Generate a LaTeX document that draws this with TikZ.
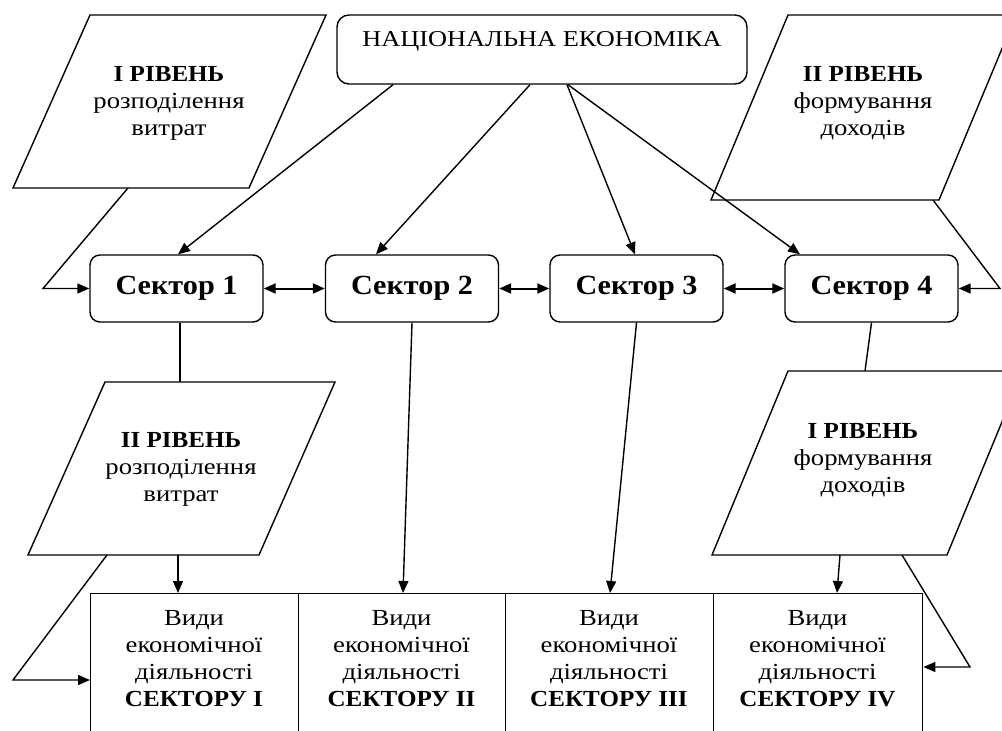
\documentclass[tikz,border=0pt]{standalone}
\usepackage{fontspec}
\setmainfont{Liberation Serif}[FakeStretch=1.16,BoldFeatures={FakeStretch=1.09}]
\usetikzlibrary{arrows.meta}
\begin{document}
\begin{tikzpicture}[x=1pt,y=-1pt,
  ln/.style={line width=1.4pt},
  arr/.style={line width=1.4pt,-{Triangle[length=12pt,width=10pt]}},
  darr/.style={line width=2pt,{Triangle[length=12pt,width=10pt]}-{Triangle[length=12pt,width=10pt]}},
  sector/.style={draw,line width=1.4pt,rounded corners=10pt,minimum width=173pt,minimum height=67pt,font=\fontsize{27.7}{32}\selectfont\bfseries},
  topbox/.style={draw,line width=1.4pt,rounded corners=12pt,minimum width=410pt,minimum height=69pt,font=\fontsize{22.7}{27}\selectfont,text height=16pt,text depth=21.6pt},
  para/.style={draw,line width=1.4pt,line join=miter},
  ptext/.style={align=center,font=\fontsize{23}{27}\selectfont,inner sep=0pt},
  bbox/.style={draw,line width=1.4pt,anchor=north west,minimum height=180pt,inner sep=0pt},
  btext/.style={align=center,font=\fontsize{23}{27}\selectfont,inner sep=0pt}]
\useasboundingbox (0,0) rectangle (1002,731);
\clip (0,0) rectangle (1002,731);
\fill[white] (0,0) rectangle (1002,731);

% top box
\node[topbox] (ne) at (542,49.5) {НАЦІОНАЛЬНА ЕКОНОМІКА};

% parallelograms
\draw[para] (90,15) -- (326,15) -- (249,188) -- (13,188) -- cycle;
\draw[para] (788,15) -- (1016,15) -- (939,200) -- (711,200) -- cycle;
\draw[para] (105,382) -- (335,382) -- (259,555) -- (28,555) -- cycle;
\draw[para] (788,371) -- (1023,371) -- (947,555) -- (712,555) -- cycle;
\coordinate (p1o) at (128,188);
\coordinate (p1k) at (43,288.5);
\coordinate (p2o) at (933,200);
\coordinate (p2k) at (1000,288.5);
\coordinate (p3t) at (180,382);
\coordinate (p3b) at (178,555);
\coordinate (p3s) at (107,555);
\coordinate (p3k) at (13,680);
\coordinate (p4t) at (865,371);
\coordinate (p4b) at (840,555);
\coordinate (p4s) at (902,555);
\coordinate (p4k) at (970,667);

\node[ptext] (t1) at (169,103) {\textbf{I РІВЕНЬ}\\розподілення\\витрат};
\node[ptext] (t2) at (863,103) {\textbf{II РІВЕНЬ}\\формування\\доходів};
\node[ptext] (t3) at (181,469) {\textbf{II РІВЕНЬ}\\розподілення\\витрат};
\node[ptext] (t4) at (863,460) {\textbf{I РІВЕНЬ}\\формування\\доходів};

% sectors
\node[sector] (s1) at (176.5,288.5) {Сектор 1};
\node[sector] (s2) at (412,288.5) {Сектор 2};
\node[sector] (s3) at (636.5,288.5) {Сектор 3};
\node[sector] (s4) at (871.5,288.5) {Сектор 4};

% bottom boxes
\node[bbox,minimum width=208pt] (b1) at (90,593) {};
\node[bbox,minimum width=207pt] (b2) at (298,593) {};
\node[bbox,minimum width=208pt] (b3) at (505,593) {};
\node[bbox,minimum width=209pt] (b4) at (713,593) {};
\node[btext] (bt1) at (194,659) {Види\\економічної\\діяльності\\\textbf{СЕКТОРУ I}};
\node[btext] (bt2) at (401.5,659) {Види\\економічної\\діяльності\\\textbf{СЕКТОРУ II}};
\node[btext] (bt3) at (609,659) {Види\\економічної\\діяльності\\\textbf{СЕКТОРУ III}};
\node[btext] (bt4) at (817.5,659) {Види\\економічної\\діяльності\\\textbf{СЕКТОРУ IV}};

% arrows from top box
\draw[arr] ([xshift=-149pt]ne.south) -- ([xshift=1.5pt]s1.north);
\draw[arr] ([xshift=-12pt]ne.south) -- ([xshift=-36pt]s2.north);
\draw[arr] ([xshift=25pt]ne.south) -- ([xshift=-1.5pt]s3.north);
\draw[arr] ([xshift=26pt]ne.south) -- ([xshift=-71.5pt]s4.north);

% between sectors
\draw[darr] (s1.east) -- (s2.west);
\draw[darr] (s2.east) -- (s3.west);
\draw[darr] (s3.east) -- (s4.west);

% parallelogram connectors
\draw[arr] (p1o) -- (p1k) -- (s1.west);
\draw[arr] (p2o) -- (p2k) -- (s4.east);
\draw[ln] ([xshift=3.5pt]s1.south) -- (p3t);
\draw[ln] (s4.south) -- (p4t);
\draw[arr] (p3b) -- (p3b |- b1.north);
\draw[arr] (p3s) -- (p3k) -- (p3k -| b1.west);
\draw[arr] (p4b) -- ([xshift=-3pt]p4b |- b4.north);
\draw[arr] (p4s) -- (p4k) -- (p4k -| b4.east);

% sectors to bottom boxes
\draw[arr] (s2.south) -- ([xshift=-9pt]s2.south |- b2.north);
\draw[arr] (s3.south) -- ([xshift=-26.5pt]s3.south |- b3.north);
\end{tikzpicture}
\end{document}
